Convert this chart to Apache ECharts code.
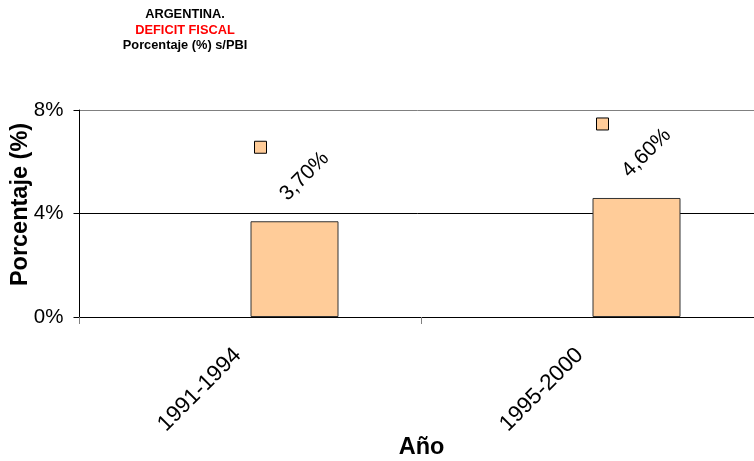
<!DOCTYPE html>
<html>
<head>
<meta charset="utf-8">
<script src="https://cdn.jsdelivr.net/npm/echarts@6/dist/echarts.min.js"></script>
<style>
  html, body { margin: 0; padding: 0; background: #fff; }
  #chart { width: 754px; height: 461px; }
</style>
</head>
<body>
<div id="chart"></div>
<script>
// Fiscal deficit of Argentina, percentage of GDP, by period
const periods = ['1991-1994', '1995-2000'];
const deficit = [3.70, 4.60];
const placeholder = [null, null];
const yTicks = [0, 4, 8];

const FONT = '"Liberation Sans", Arial, sans-serif';
const FILL = '#FFCC99';

const chart = echarts.init(document.getElementById('chart'), null, { renderer: 'canvas' });

const fmtPct = v => v.toFixed(2).replace('.', ',') + '%';

const titleLine = (text, y, color) => ({
  type: 'text',
  x: 185,
  y: y,
  style: { text: text, fill: color, font: 'bold 12.8px ' + FONT, textAlign: 'center', textVerticalAlign: 'middle' }
});

chart.setOption({
  animation: false,
  backgroundColor: '#fff',
  textStyle: { fontFamily: FONT },
  graphic: [
    titleLine('ARGENTINA.', 14, '#000'),
    titleLine('DEFICIT FISCAL', 30, '#FF0000'),
    titleLine('Porcentaje (%) s/PBI', 45.5, '#000')
  ],
  grid: { left: 79.5, right: -9.5, top: 110, bottom: 144, containLabel: false, outerBoundsMode: 'none' },
  xAxis: {
    type: 'category',
    data: periods,
    name: 'Año',
    nameLocation: 'middle',
    nameGap: 119,
    nameMoveOverlap: false,
    nameTextStyle: { fontFamily: FONT, fontSize: 23.5, fontWeight: 'bold', color: '#000' },
    axisLine: { lineStyle: { color: '#000', width: 1 } },
    axisTick: { show: true, length: 7, lineStyle: { color: '#808080' } },
    axisLabel: { rotate: 45, margin: 22, padding: [0, 18, 0, 0], fontFamily: FONT, fontSize: 22.5, color: '#000' }
  },
  yAxis: {
    type: 'value',
    min: yTicks[0],
    max: yTicks[yTicks.length - 1],
    interval: yTicks[1] - yTicks[0],
    name: 'Porcentaje (%)',
    nameLocation: 'middle',
    nameGap: 47,
    nameMoveOverlap: false,
    nameTextStyle: { fontFamily: FONT, fontSize: 23.5, fontWeight: 'bold', color: '#000', padding: [0, 0, 0, 18] },
    axisLine: { show: true, lineStyle: { color: '#000', width: 1 } },
    axisTick: { show: true, length: 6, lineStyle: { color: '#000' } },
    axisLabel: { margin: 16, fontFamily: FONT, fontSize: 20.5, color: '#000', formatter: '{value}%' },
    splitLine: { show: true, lineStyle: { color: ['#000', '#000', '#808080'], width: 1 } }
  },
  series: [
    {
      type: 'bar',
      data: placeholder,
      barWidth: 88,
      barGap: '0%'
    },
    {
      type: 'bar',
      data: deficit,
      barWidth: 88,
      barGap: '0%',
      itemStyle: { color: FILL, borderColor: '#333', borderWidth: 1 },
      label: {
        show: true,
        position: [54, -45],
        align: 'center',
        verticalAlign: 'middle',
        rotate: 45,
        fontFamily: FONT,
        fontSize: 21,
        color: '#000',
        formatter: p => fmtPct(p.value)
      }
    },
    {
      type: 'scatter',
      data: deficit,
      symbol: 'rect',
      symbolSize: 12,
      symbolOffset: [10, -74],
      itemStyle: { color: FILL, borderColor: '#000', borderWidth: 1, opacity: 1 },
      z: 5
    }
  ]
});
</script>
</body>
</html>
